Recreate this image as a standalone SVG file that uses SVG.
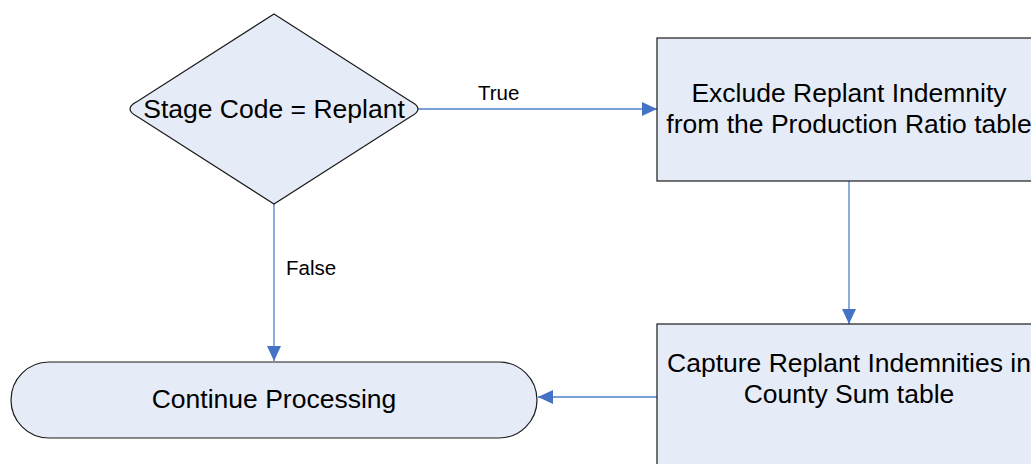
<svg xmlns="http://www.w3.org/2000/svg" width="1031" height="464" viewBox="0 0 1031 464">
  <style>
    .shape { fill: #E6ECF7; stroke: #1a1a1a; stroke-width: 1.2; }
    .main { font-family: "Liberation Sans", Arial, sans-serif; font-size: 26.5px; fill: #000; text-anchor: middle; }
    .lbl { font-family: "Liberation Sans", Arial, sans-serif; font-size: 20.5px; fill: #000; }
    .conn { fill: none; stroke: #4F81C7; stroke-width: 1.3; marker-end: url(#arrow); }
  </style>
  <defs>
    <marker id="arrow" viewBox="0 0 15 14" refX="15" refY="7" markerWidth="15" markerHeight="14" markerUnits="userSpaceOnUse" orient="auto">
      <path d="M0,0 L15,7 L0,14 Z" fill="#4472C4"/>
    </marker>
  </defs>
  <rect width="1031" height="464" fill="#ffffff"/>

  <g id="connectors">
    <line class="conn" x1="418" y1="109" x2="657" y2="109"/>
    <line class="conn" x1="274" y1="204" x2="274" y2="361"/>
    <line class="conn" x1="849" y1="181" x2="849" y2="324"/>
    <line class="conn" x1="657" y1="397" x2="538" y2="397"/>
    <text class="lbl" x="478" y="100">True</text>
    <text class="lbl" x="286" y="275">False</text>
  </g>

  <g id="decision">
    <path class="shape" d="M274,14 L410,101 Q426,109 410,117 L274,204 L138,117 Q122,109 138,101 Z"/>
    <text class="main" x="274" y="118">Stage Code = Replant</text>
  </g>

  <g id="exclude">
    <rect class="shape" x="657" y="38" width="384" height="143"/>
    <text class="main" x="849" y="102">Exclude Replant Indemnity</text>
    <text class="main" x="849" y="133">from the Production Ratio table</text>
  </g>

  <g id="capture">
    <rect class="shape" x="657" y="324" width="384" height="150"/>
    <text class="main" x="849" y="372">Capture Replant Indemnities in</text>
    <text class="main" x="849" y="403">County Sum table</text>
  </g>

  <g id="continue">
    <rect class="shape" x="11" y="362" width="526" height="76" rx="38" ry="38"/>
    <text class="main" x="274" y="408">Continue Processing</text>
  </g>
</svg>
